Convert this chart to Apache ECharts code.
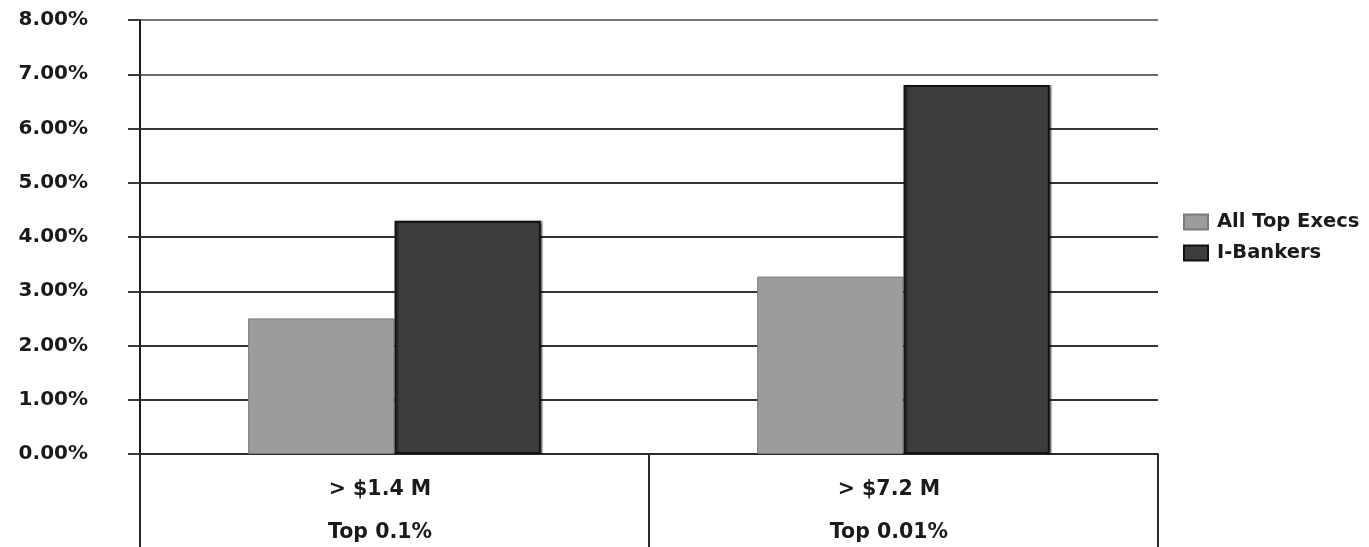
<!DOCTYPE html>
<html>
<head>
<meta charset="utf-8">
<script src="https://cdn.jsdelivr.net/npm/echarts@6/dist/echarts.min.js"></script>
<style>
  html, body { margin: 0; padding: 0; background: #fff; overflow: hidden; }
  #chart { width: 1369px; height: 547px; }
</style>
</head>
<body>
<div id="chart"></div>
<script>
// Income thresholds and the share of earners above them
const thresholds = ['> $1.4 M', '> $7.2 M'];
const topShares = ['Top 0.1%', 'Top 0.01%'];
const seriesNames = ['All Top Execs', 'I-Bankers'];
const allTopExecs = [2.50, 3.27];   // percent
const iBankers = [4.30, 6.80];      // percent
const yTicks = [0, 1, 2, 3, 4, 5, 6, 7, 8];

const categories = thresholds.map((t, i) => t + '\n' + topShares[i]);
const font = 'DejaVu Sans, Verdana, sans-serif';

const chart = echarts.init(document.getElementById('chart'), null, { renderer: 'canvas', width: 1369, height: 547 });
chart.setOption({
  backgroundColor: '#ffffff',
  animation: false,
  grid: { left: 140, right: 211, top: 20, bottom: 93, containLabel: false, outerBoundsMode: 'none' },
  legend: {
    orient: 'vertical',
    left: 1183,
    top: 212,
    padding: 0,
    icon: 'rect',
    itemWidth: 24,
    itemHeight: 15,
    itemGap: 11,
    data: seriesNames,
    textStyle: { fontFamily: font, fontSize: 19.5, fontWeight: 'bold', lineHeight: 20, color: '#1a1a1a', padding: [0, 0, 0, 4] }
  },
  xAxis: {
    type: 'category',
    data: categories,
    boundaryGap: true,
    axisLine: { show: true, lineStyle: { color: '#2a2a2a', width: 2 } },
    axisTick: { show: true, length: 100, lineStyle: { color: '#2a2a2a', width: 2 } },
    axisLabel: {
      fontFamily: font, fontSize: 20.5, fontWeight: 'bold', lineHeight: 43, color: '#1a1a1a',
      margin: 14, padding: [0, 29, 0, 0]
    },
    splitLine: { show: false }
  },
  yAxis: {
    type: 'value',
    min: yTicks[0],
    max: yTicks[yTicks.length - 1],
    interval: 1,
    axisLine: { show: true, lineStyle: { color: '#1a1a1a', width: 2 } },
    axisTick: { show: true, length: 12, lineStyle: { color: '#3a3a3a', width: 2 } },
    axisLabel: {
      fontFamily: font, fontSize: 20, fontWeight: 'bold', color: '#1a1a1a', margin: 52,
      formatter: v => v.toFixed(2) + '%'
    },
    splitLine: {
      show: true,
      lineStyle: {
        width: 2,
        color: ['#2a2a2a', '#333', '#333', '#333', '#333', '#333', '#383838', '#6a6a6a', '#777']
      }
    }
  },
  series: [
    {
      name: seriesNames[0],
      type: 'bar',
      data: allTopExecs,
      barGap: '0%',
      barCategoryGap: '42.5%',
      itemStyle: { color: '#9c9c9c', borderColor: '#7a7a7a', borderWidth: 1 }
    },
    {
      name: seriesNames[1],
      type: 'bar',
      data: iBankers,
      barGap: '0%',
      barCategoryGap: '42.5%',
      itemStyle: {
        color: '#3d3d3d', borderColor: '#111', borderWidth: 2,
        shadowColor: 'rgba(0,0,0,0.35)', shadowOffsetX: 2, shadowOffsetY: 0, shadowBlur: 1
      }
    }
  ]
});
</script>
</body>
</html>
